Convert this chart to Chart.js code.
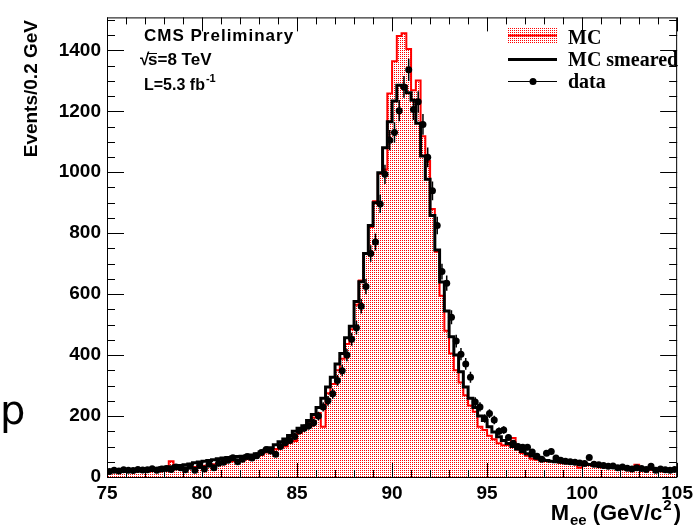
<!DOCTYPE html>
<html lang="en">
<head>
<meta charset="UTF-8">
<title>Mee MC vs data</title>
<script src="https://cdn.jsdelivr.net/npm/chart.js"></script>
<style>
  body { margin: 0; background: #fff; }
  #wrap { width: 698px; height: 527px; position: relative; }
</style>
</head>
<body>
<div id="wrap"><canvas id="mee" width="698" height="527"></canvas></div>
<script>
// binning: 120 bins of 0.25 GeV from 75 to 105
const binLow = 75;
const binWidth = 0.25;

// MC (red, filled)
const mcCounts = [
  15, 17, 16, 18, 17, 19, 18, 20, 21, 19, 22, 21,
  24, 23, 52, 26, 27, 29, 30, 33,
  35, 37, 39, 42, 45, 47, 50, 52,
  55, 58, 60, 64, 70, 73, 80, 86,
  92, 96, 100, 112, 118,
  144, 158, 176, 195, 210, 165, 275, 305, 350, 388,
  436, 485, 565, 645, 735, 820, 905, 995, 1009, 1258,
  1364, 1447, 1456, 1404, 1269, 1301, 1118, 1037, 879, 739,
  595, 480, 405, 350, 310, 268, 235, 214, 165, 154,
  135, 124, 111, 104, 105, 128, 90, 79, 70, 60,
  57, 59, 55, 52, 50, 47, 48, 45, 44, 30,
  43, 41, 40, 38, 36, 34, 33, 30, 31, 29,
  27, 40, 26, 25, 23, 22, 24, 20, 21
];

// MC smeared (black line)
const smearedCounts = [
  20, 21, 21, 22, 23, 23, 24, 25, 26, 27, 28, 29,
  30, 32, 34, 36, 38, 40, 43, 47,
  49, 52, 54, 57, 60, 62, 64, 66,
  67, 68, 70, 72, 76, 82, 88, 96,
  106, 116, 125, 136, 150,
  160, 168, 185, 205, 228, 258, 295, 327, 371, 405,
  457, 495, 576, 641, 733, 825, 900, 998, 1080, 1166,
  1234, 1285, 1282, 1261, 1236, 1161, 1053, 977, 858, 745,
  640, 545, 460, 400, 345, 295, 258, 228, 200, 185,
  165, 148, 132, 120, 110, 100, 92, 84, 76, 69,
  62, 57, 54, 52, 50, 49, 47, 46, 45, 44,
  43, 41, 40, 38, 36, 35, 33, 32, 31, 30,
  29, 28, 27, 27, 26, 25, 25, 24, 24
];

// data (points with sqrt(N) errors)
const dataCounts = [
  18, 22, 20, 24, 22, 21, 25, 23, 24, 27, 22, 26,
  28, 25, 33, 30, 24, 35, 22, 38,
  26, 42, 30, 45, 48, 55, 63, 50,
  58, 67, 62, 70, 80, 90, 85, 75,
  100, 112, 120, 133, 152,
  160, 168, 178, 200, 230, 250, 273, 317, 349, 400,
  452, 490, 560, 625, 733, 771, 896, 993, 1105, 1130,
  1202, 1280, 1336, 1206, 1231, 1157, 1049, 939, 825, 674,
  636, 524, 446, 403, 371, 327, 246, 230, 192, 208,
  187, 150, 154, 130, 111, 100, 98, 98, 82, 68,
  58, 78, 84, 62, 55, 52, 50, 48, 46, 44,
  64, 42, 40, 38, 35, 36, 30, 33, 29, 26,
  30, 28, 25, 35, 22, 26, 24, 22, 25
];

const xTickValues = [75, 80, 85, 90, 95, 100, 105];
const yTickValues = [0, 200, 400, 600, 800, 1000, 1200, 1400];

const HELV = '"Liberation Sans", Arial, sans-serif';
const TIMES = '"Liberation Serif", "Times New Roman", serif';

function stepPoints(counts) {
  const pts = counts.map((v, i) => ({ x: binLow + i * binWidth, y: v }));
  pts.push({ x: binLow + counts.length * binWidth, y: counts[counts.length - 1] });
  return pts;
}
function centerPoints(counts) {
  return counts.map((v, i) => ({ x: binLow + (i + 0.5) * binWidth, y: v }));
}

const canvas = document.getElementById('mee');
const ctx = canvas.getContext('2d');

// red stipple fill like ROOT fill style
const tile = document.createElement('canvas');
tile.width = 2; tile.height = 2;
const tctx = tile.getContext('2d');
tctx.fillStyle = '#fff';
tctx.fillRect(0, 0, 2, 2);
tctx.fillStyle = '#ff0000';
tctx.fillRect(0, 0, 1, 1);
const stipple = ctx.createPattern(tile, 'repeat');

// vertical error bars under the data markers
const errorBars = {
  id: 'errorBars',
  beforeDatasetDraw(chart, args) {
    if (args.index !== 0) return;
    const c = chart.ctx, xs = chart.scales.x, ys = chart.scales.y;
    c.save();
    c.strokeStyle = '#000';
    c.lineWidth = 1.5;
    c.beginPath();
    dataCounts.forEach((v, i) => {
      const px = xs.getPixelForValue(binLow + (i + 0.5) * binWidth);
      const e = Math.sqrt(v);
      c.moveTo(px, ys.getPixelForValue(v - e));
      c.lineTo(px, ys.getPixelForValue(v + e));
    });
    c.stroke();
    c.restore();
  }
};

// frame, inward ticks, labels and legend in ROOT style
const rootDecor = {
  id: 'rootDecor',
  afterDraw(chart) {
    const c = chart.ctx, a = chart.chartArea;
    const xs = chart.scales.x, ys = chart.scales.y;
    c.save();
    c.strokeStyle = '#000';
    c.lineWidth = 1;
    c.strokeRect(a.left + 0.5, a.top + 0.5, a.right - a.left - 1, a.bottom - a.top);

    c.beginPath();
    for (let v = 75; v <= 105; v += 1) {
      const px = Math.round(xs.getPixelForValue(v)) + 0.5;
      const len = v % 5 === 0 ? 14 : 7;
      c.moveTo(px, a.bottom); c.lineTo(px, a.bottom - len);
      c.moveTo(px, a.top); c.lineTo(px, a.top + len);
    }
    for (let v = 0; v <= 1500; v += 50) {
      const py = Math.round(ys.getPixelForValue(v)) + 0.5;
      const len = v % 200 === 0 ? 17 : 8;
      c.moveTo(a.left, py); c.lineTo(a.left + len, py);
      c.moveTo(a.right, py); c.lineTo(a.right - len, py);
    }
    c.stroke();

    // axis titles
    c.fillStyle = '#000';
    c.font = 'bold 19px ' + HELV;
    c.save();
    c.translate(37, 20);
    c.rotate(-Math.PI / 2);
    c.textAlign = 'right';
    c.textBaseline = 'alphabetic';
    c.fillText('Events/0.2 GeV', 0, 0);
    c.restore();

    // x title, right-aligned at the axis end
    c.textBaseline = 'alphabetic';
    c.textAlign = 'left';
    const yb = 520;
    const big = 'bold 22px ' + HELV, small = 'bold 15px ' + HELV;
    c.font = big;
    const wM = c.measureText('M').width, wG = c.measureText('(GeV/c').width, wP = c.measureText(')').width;
    c.font = small;
    const wE = c.measureText('ee').width, w2 = c.measureText('2').width;
    let x0 = 681 - (wM + 1 + wE + 6 + wG + 1 + w2 + 2 + wP);
    c.font = big;  c.fillText('M', x0, yb); x0 += wM + 1;
    c.font = small; c.fillText('ee', x0, yb + 5); x0 += wE + 6;
    c.font = big;  c.fillText('(GeV/c', x0, yb); x0 += wG + 1;
    c.font = small; c.fillText('2', x0, yb - 10); x0 += w2 + 2;
    c.font = big;  c.fillText(')', x0, yb);

    // CMS label
    c.font = 'bold 17px ' + HELV;
    c.letterSpacing = '1px';
    c.fillText('CMS Preliminary', 144, 41);
    c.letterSpacing = '0px';
    c.fillText('\u221A', 140, 65);
    c.fillText('s=8 TeV', 148, 65);
    c.lineWidth = 1;
    c.beginPath(); c.moveTo(147, 53.5); c.lineTo(157, 53.5); c.stroke();
    c.font = 'bold 16px ' + HELV;
    c.fillText('L=5.3 fb', 144, 90);
    const lw = c.measureText('L=5.3 fb').width;
    c.font = 'bold 11px ' + HELV;
    c.fillText('-1', 144 + lw + 1, 82);

    // stray glyph at left
    c.font = '40px "DejaVu Sans", sans-serif';
    c.fillText('p', 0, 424);

    // legend
    c.fillStyle = stipple;
    c.fillRect(508, 28, 49, 15);
    c.strokeStyle = '#ff0000';
    c.lineWidth = 2;
    c.beginPath(); c.moveTo(508, 35.5); c.lineTo(557, 35.5); c.stroke();
    c.strokeStyle = '#000';
    c.lineWidth = 3;
    c.beginPath(); c.moveTo(508, 59.5); c.lineTo(557, 59.5); c.stroke();
    c.lineWidth = 1;
    c.beginPath(); c.moveTo(508, 81.5); c.lineTo(557, 81.5); c.stroke();
    c.fillStyle = '#000';
    c.beginPath(); c.arc(533, 81.5, 3.5, 0, Math.PI * 2); c.fill();
    c.font = 'bold 20px ' + TIMES;
    c.fillText('MC', 568, 44);
    c.fillText('MC smeared', 568, 66);
    c.fillText('data', 568, 88);
    c.restore();
  }
};

const chart = new Chart(ctx, {
  type: 'line',
  data: {
    datasets: [
      {
        label: 'data',
        data: centerPoints(dataCounts),
        showLine: false,
        pointRadius: 3.5,
        pointBackgroundColor: '#000',
        pointBorderColor: '#000',
        pointBorderWidth: 0,
        order: 0
      },
      {
        label: 'MC smeared',
        data: stepPoints(smearedCounts),
        stepped: 'after',
        borderColor: '#000',
        borderWidth: 3,
        pointRadius: 0,
        fill: false,
        order: 1
      },
      {
        label: 'MC',
        data: stepPoints(mcCounts),
        stepped: 'after',
        borderColor: '#ff0000',
        borderWidth: 2,
        backgroundColor: stipple,
        fill: 'origin',
        pointRadius: 0,
        order: 2
      }
    ]
  },
  options: {
    responsive: false,
    animation: false,
    devicePixelRatio: 1,
    layout: { padding: { left: 0, right: 18, top: 12, bottom: 0 } },
    plugins: {
      legend: { display: false },
      tooltip: { enabled: false }
    },
    scales: {
      x: {
        type: 'linear',
        min: 75,
        max: 105,
        afterBuildTicks: (s) => { s.ticks = xTickValues.map(v => ({ value: v })); },
        afterFit: (s) => { s.height = 50; },
        grid: { display: false, drawTicks: false },
        border: { display: false },
        ticks: {
          color: '#000',
          padding: 5,
          maxRotation: 0,
          autoSkip: false,
          font: { family: HELV, weight: 'bold', size: 19 },
          callback: (v) => String(v)
        }
      },
      y: {
        min: 0,
        max: 1508,
        afterBuildTicks: (s) => { s.ticks = yTickValues.map(v => ({ value: v })); },
        afterFit: (s) => { s.width = 107; },
        grid: { display: false, drawTicks: false },
        border: { display: false },
        ticks: {
          color: '#000',
          padding: 6,
          autoSkip: false,
          font: { family: HELV, weight: 'bold', size: 19 },
          callback: (v) => String(v)
        }
      }
    }
  },
  plugins: [errorBars, rootDecor]
});
</script>
</body>
</html>
